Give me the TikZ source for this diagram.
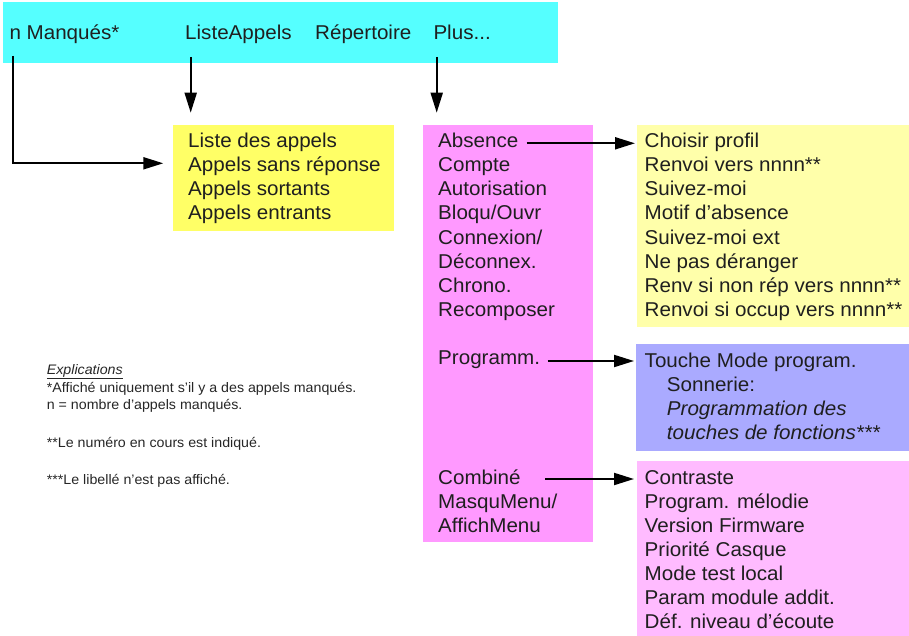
\documentclass[tikz,border=0pt]{standalone}
\usepackage{fontspec}
\setmainfont{Liberation Sans}[FakeStretch=1.03]
\usetikzlibrary{arrows.meta}
\definecolor{cyanbar}{RGB}{85,255,255}
\definecolor{yel}{RGB}{255,255,102}
\definecolor{mag}{RGB}{255,153,255}
\definecolor{lyel}{RGB}{255,255,170}
\definecolor{lblue}{RGB}{170,170,255}
\definecolor{lpink}{RGB}{255,187,255}
\begin{document}
\begin{tikzpicture}[x=1pt,y=-1pt,
  box/.style={anchor=north west, inner sep=0pt, outer sep=0pt, draw=none},
  txt/.style={anchor=base west, inner sep=0pt, text=black!88, font=\fontsize{20}{24}\selectfont},
  small/.style={anchor=base west, inner sep=0pt, text=black!85, font=\fontsize{13.8}{16}\selectfont},
  arr/.style={line width=2pt, -{Triangle[length=20pt,width=12pt]}}]
\useasboundingbox (0,0) rectangle (909,636);
% boxes
\node[box, fill=cyanbar, minimum width=555, minimum height=61] (bar) at (3,2) {};
\node[box, fill=yel, minimum width=221, minimum height=106] (ybox) at (173,125) {};
\node[box, fill=mag, minimum width=170, minimum height=417] (mbox) at (423,125) {};
\node[box, fill=lyel, minimum width=272, minimum height=202] (absbox) at (637,125) {};
\node[box, fill=lblue, minimum width=273, minimum height=107] (progbox) at (636,344) {};
\node[box, fill=lpink, minimum width=272, minimum height=175] (combox) at (637,461) {};
% top bar
\node[txt] (nm) at (9.3,39.3) {n Manqués*};
\node[txt] (la) at (185,39.3) {ListeAppels};
\node[txt] (rep) at (315,39.3) {Répertoire};
\node[txt] (plus) at (433.3,39.3) {Plus...};
% yellow list
\node[txt] (y1) at (188,148) {Liste des appels};
\node[txt] (y2) at (188,172) {Appels sans réponse};
\node[txt] (y3) at (188,196) {Appels sortants};
\node[txt] (y4) at (188,220) {Appels entrants};
% magenta menu
\node[txt] (m1) at (438,148) {Absence};
\node[txt] (m2) at (438,172) {Compte};
\node[txt] (m3) at (438,196) {Autorisation};
\node[txt] (m4) at (438,220) {Bloqu/Ouvr};
\node[txt] (m5) at (438,244) {Connexion/};
\node[txt] (m6) at (438,268) {Déconnex.};
\node[txt] (m7) at (438,292) {Chrono.};
\node[txt] (m8) at (438,316) {Recomposer};
\node[txt] (m9) at (438,364) {Programm.};
\node[txt] (m10) at (438,484) {Combiné};
\node[txt] (m11) at (438,508) {MasquMenu/};
\node[txt] (m12) at (438,532) {AffichMenu};
% absence submenu
\node[txt] (a1) at (644.5,148) {Choisir profil};
\node[txt] (a2) at (644.5,172) {Renvoi vers nnnn**};
\node[txt] (a3) at (644.5,196) {Suivez-moi};
\node[txt] (a4) at (644.5,220) {Motif d’absence};
\node[txt] (a5) at (644.5,244) {Suivez-moi ext};
\node[txt] (a6) at (644.5,268) {Ne pas déranger};
\node[txt] (a7) at (644.5,292) {Renv si non rép vers nnnn**};
\node[txt] (a8) at (644.5,316) {Renvoi si occup vers nnnn**};
% program submenu
\node[txt] (p1) at (644.5,367) {Touche Mode program.};
\node[txt] (p2) at (666.7,391) {Sonnerie:};
\node[txt] (p3) at (666.7,415) {\itshape Programmation des};
\node[txt] (p4) at (666.7,439) {\itshape touches de fonctions***};
% combine submenu
\node[txt] (c1) at (644.5,484) {Contraste};
\node[txt] (c2) at (644.5,508) {Program. mélodie};
\node[txt] (c3) at (644.5,532) {Version Firmware};
\node[txt] (c4) at (644.5,556) {Priorité Casque};
\node[txt] (c5) at (644.5,580) {Mode test local};
\node[txt] (c6) at (644.5,604) {Param module addit.};
\node[txt] (c7) at (644.5,628) {Déf. niveau d’écoute};
% explanations
\node[small] (e0) at (46.7,374) {\underline{\itshape Explications}};
\node[small] (e1) at (46.7,392) {*Affiché uniquement s’il y a des appels manqués.};
\node[small] (e2) at (46.7,409) {n = nombre d’appels manqués.};
\node[small] (e3) at (46.7,447) {**Le numéro en cours est indiqué.};
\node[small] (e4) at (46.7,484) {***Le libellé n’est pas affiché.};
% connectors
\coordinate (nmS) at (12.7,56);
\coordinate (nmE) at (163.3,163.3);
\draw[arr] (nmS) |- (nmE);
\coordinate (laS) at (190.7,57);
\coordinate (laE) at (190.7,112.7);
\draw[arr] (laS) -- (laE);
\coordinate (plS) at (436.7,57);
\coordinate (plE) at (436.7,112.7);
\draw[arr] (plS) -- (plE);
\coordinate (abS) at (526.7,143.3);
\coordinate (abE) at (635,143.3);
\draw[arr] (abS) -- (abE);
\coordinate (prS) at (547.7,361);
\coordinate (prE) at (634,361);
\draw[arr] (prS) -- (prE);
\coordinate (coS) at (545,479);
\coordinate (coE) at (634,479);
\draw[arr] (coS) -- (coE);
\end{tikzpicture}
\end{document}
